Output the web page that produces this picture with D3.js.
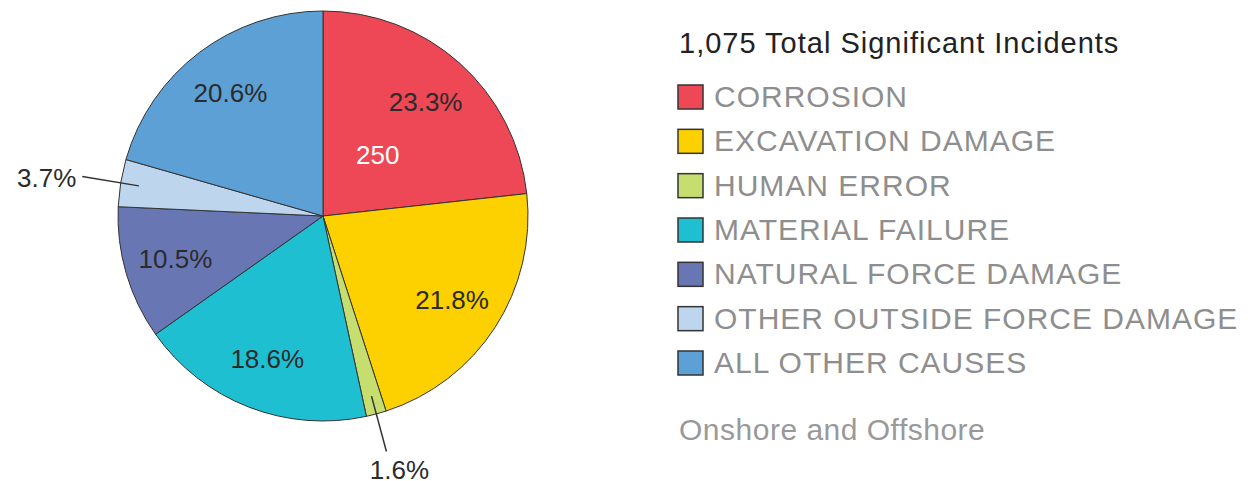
<!DOCTYPE html>
<html>
<head>
<meta charset="utf-8">
<script src="https://cdn.jsdelivr.net/npm/d3@7"></script>
<style>
  body { margin: 0; background: #fff; }
  svg { font-family: "Liberation Sans", Arial, sans-serif; display: block; }
  .slice { stroke: #333; stroke-width: 1; }
  .label-pct { fill: #2b2b2b; font-size: 26px; }
  .label-val { fill: #fff; font-size: 26px; }
  .leader { stroke: #333; stroke-width: 1.5; fill: none; }
  .legend-title { fill: #222; font-size: 29px; letter-spacing: 1px; }
  .legend-item text { fill: #8e8e8e; font-size: 30px; letter-spacing: 1px; }
  .legend-item rect { stroke: #333; stroke-width: 1.5; }
  .note { fill: #999; font-size: 30px; letter-spacing: 0.5px; }
</style>
</head>
<body>
<svg width="1248" height="481"></svg>
<script>
(function () {
    // Causes of the incidents, in drawing order (clockwise from 12 o'clock)
    var causes = ["CORROSION", "EXCAVATION DAMAGE", "HUMAN ERROR", "MATERIAL FAILURE",
                  "NATURAL FORCE DAMAGE", "OTHER OUTSIDE FORCE DAMAGE", "ALL OTHER CAUSES"];
    // Number of significant incidents per cause
    var counts = [250, 234, 17, 200, 113, 40, 221];
    // Palette of the slices
    var palette = ["#ee4756", "#fdd000", "#c6dd6f", "#1fbfd2", "#6877b3", "#bdd6ee", "#5da0d5"];
    // Cause whose count is shown inside its slice
    var highlighted = "CORROSION";
    var subtitle = "Onshore and Offshore";

    var svg = d3.select("svg");
    var total = d3.sum(counts);
    var color = d3.scaleOrdinal().domain(causes).range(palette);
    var fmtPct = d3.format(".1f");

    var data = causes.map(function (c, i) { return {cause: c, count: counts[i]}; });

    // Pie
    var radius = 205;
    var pieZone = svg.append("g").attr("transform", "translate(323,216)");
    var pie = d3.pie().sort(null).value(function (d) { return d.count; });
    var arc = d3.arc().innerRadius(0).outerRadius(radius);
    var arcs = pie(data);

    pieZone.selectAll(".slice")
        .data(arcs)
        .enter().append("path")
        .attr("class", "slice")
        .attr("fill", function (d) { return color(d.data.cause); })
        .attr("d", arc);

    // Point on the circle of radius r at the middle angle of a slice
    function point(d, r) {
        var a = (d.startAngle + d.endAngle) / 2;
        return [r * Math.sin(a), -r * Math.cos(a)];
    }
    function pct(d) { return fmtPct(d.data.count / total * 100) + "%"; }

    var big = arcs.filter(function (d) { return d.data.count / total >= 0.05; });
    var small = arcs.filter(function (d) { return d.data.count / total < 0.05; });

    pieZone.selectAll(".label-pct")
        .data(big)
        .enter().append("text")
        .attr("class", "label-pct")
        .attr("text-anchor", "middle")
        .attr("dy", "0.35em")
        .attr("transform", function (d) { return "translate(" + point(d, radius * 0.75) + ")"; })
        .text(pct);

    pieZone.selectAll(".label-val")
        .data(arcs.filter(function (d) { return d.data.cause === highlighted; }))
        .enter().append("text")
        .attr("class", "label-val")
        .attr("text-anchor", "middle")
        .attr("dy", "0.35em")
        .attr("transform", function (d) { return "translate(" + point(d, radius * 0.4) + ")"; })
        .text(function (d) { return d.data.count; });

    // Small slices: label outside with a leader line
    pieZone.selectAll(".leader")
        .data(small)
        .enter().append("line")
        .attr("class", "leader")
        .attr("x1", function (d) { return point(d, radius * 0.91)[0]; })
        .attr("y1", function (d) { return point(d, radius * 0.91)[1]; })
        .attr("x2", function (d) { return point(d, radius * 1.19)[0]; })
        .attr("y2", function (d) { return point(d, radius * 1.19)[1]; });

    pieZone.selectAll(".label-out")
        .data(small)
        .enter().append("text")
        .attr("class", "label-pct")
        .each(function (d) {
            var p = point(d, radius * 1.19);
            var side = p[0] < -radius * 0.5;
            d3.select(this)
                .attr("text-anchor", side ? "end" : "middle")
                .attr("x", side ? p[0] - 6 : p[0] + 13)
                .attr("y", side ? p[1] + 1 : p[1] + 27)
                .attr("dy", side ? "0.35em" : null);
        })
        .text(pct);

    // Legend
    var legend = svg.append("g").attr("transform", "translate(678,0)");
    legend.append("text")
        .attr("class", "legend-title")
        .attr("x", 1).attr("y", 53)
        .text(d3.format(",")(total) + " Total Significant Incidents");

    var rows = d3.scalePoint().domain(causes).range([97, 363]);
    var items = legend.selectAll(".legend-item")
        .data(causes)
        .enter().append("g")
        .attr("class", "legend-item")
        .attr("transform", function (d) { return "translate(0," + rows(d) + ")"; });
    items.append("rect")
        .attr("x", 0).attr("y", -12)
        .attr("width", 25).attr("height", 24)
        .attr("fill", function (d) { return color(d); });
    items.append("text")
        .attr("x", 36).attr("y", 10)
        .text(function (d) { return d; });

    legend.append("text")
        .attr("class", "note")
        .attr("x", 1).attr("y", 440)
        .text(subtitle);
})();
</script>
</body>
</html>
